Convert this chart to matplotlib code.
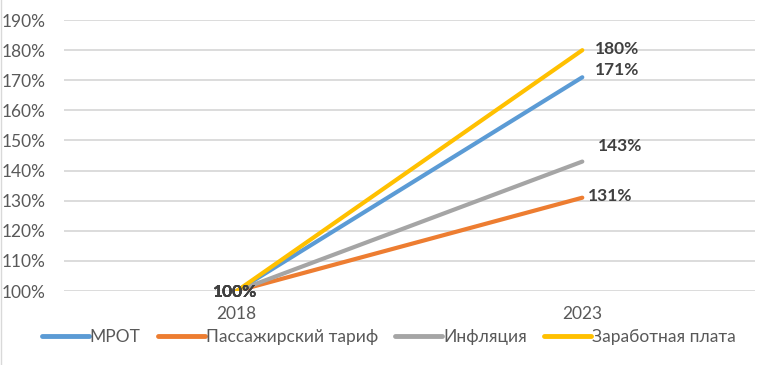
import matplotlib
matplotlib.use("Agg")
import matplotlib.pyplot as plt
from matplotlib.ticker import FuncFormatter, MultipleLocator

years = ["2018", "2023"]
series_names = ["МРОТ", "Пассажирский тариф", "Инфляция", "Заработная плата"]
mrot = [100, 171]
tariff = [100, 131]
inflation = [100, 143]
wage = [100, 180]
values = [mrot, tariff, inflation, wage]
colors = ["#5B9BD5", "#ED7D31", "#A5A5A5", "#FFC000"]
# label offsets (points) for end labels
end_offsets = [(9, 5), (4, 1), (11, 11), (9, 1)]

plt.rcParams['font.family'] = ['Lato', 'DejaVu Sans']

fig = plt.figure(figsize=(7.73, 3.65), dpi=100)
ax = fig.add_axes([0.0828, 0.2027, 0.894, 0.7423])

x = [0, 1]
for name, v, c in zip(series_names, values, colors):
    ax.plot(x, v, color=c, lw=3.0, solid_capstyle='round', label=name, zorder=3)

for v, c, off in zip(values, colors, end_offsets):
    ax.annotate(f"{v[1]}%", (1, v[1]), xytext=off, textcoords='offset points',
                ha='left', va='center', fontsize=12.5, fontweight='bold', color='#404040', zorder=5)
    ax.annotate(f"{v[0]}%", (0, v[0]), xytext=(-1, -1), textcoords='offset points',
                ha='center', va='center', fontsize=12.5, fontweight='bold', color='#404040', zorder=5)

ax.set_xlim(-0.5, 1.5)
ax.set_ylim(100, 190)
ax.yaxis.set_major_locator(MultipleLocator(10))
ax.yaxis.set_major_formatter(FuncFormatter(lambda y, p: f"{int(round(y))}%"))
ax.set_xticks(x)
ax.set_xticklabels(years)
ax.grid(axis='y', color='#D9D9D9', lw=1.3, zorder=0)
for s in ax.spines.values():
    s.set_visible(False)
ax.tick_params(axis='both', length=0, labelsize=12.5, labelcolor='#595959')
ax.tick_params(axis='y', pad=13)
ax.tick_params(axis='x', pad=11)

leg = fig.legend(loc='lower center', bbox_to_anchor=(0.503, 0.012), ncol=4, frameon=False,
                 fontsize=12.5, handlelength=2.7, handletextpad=0.05, columnspacing=1.0,
                 labelcolor='#595959')
for h in leg.get_lines():
    h.set_linewidth(3.5)

fig.add_artist(plt.Line2D([0.001, 0.001], [0, 1], color='#D9D9D9', lw=1, transform=fig.transFigure))

fig.savefig("out.png", dpi=100, facecolor='white')
